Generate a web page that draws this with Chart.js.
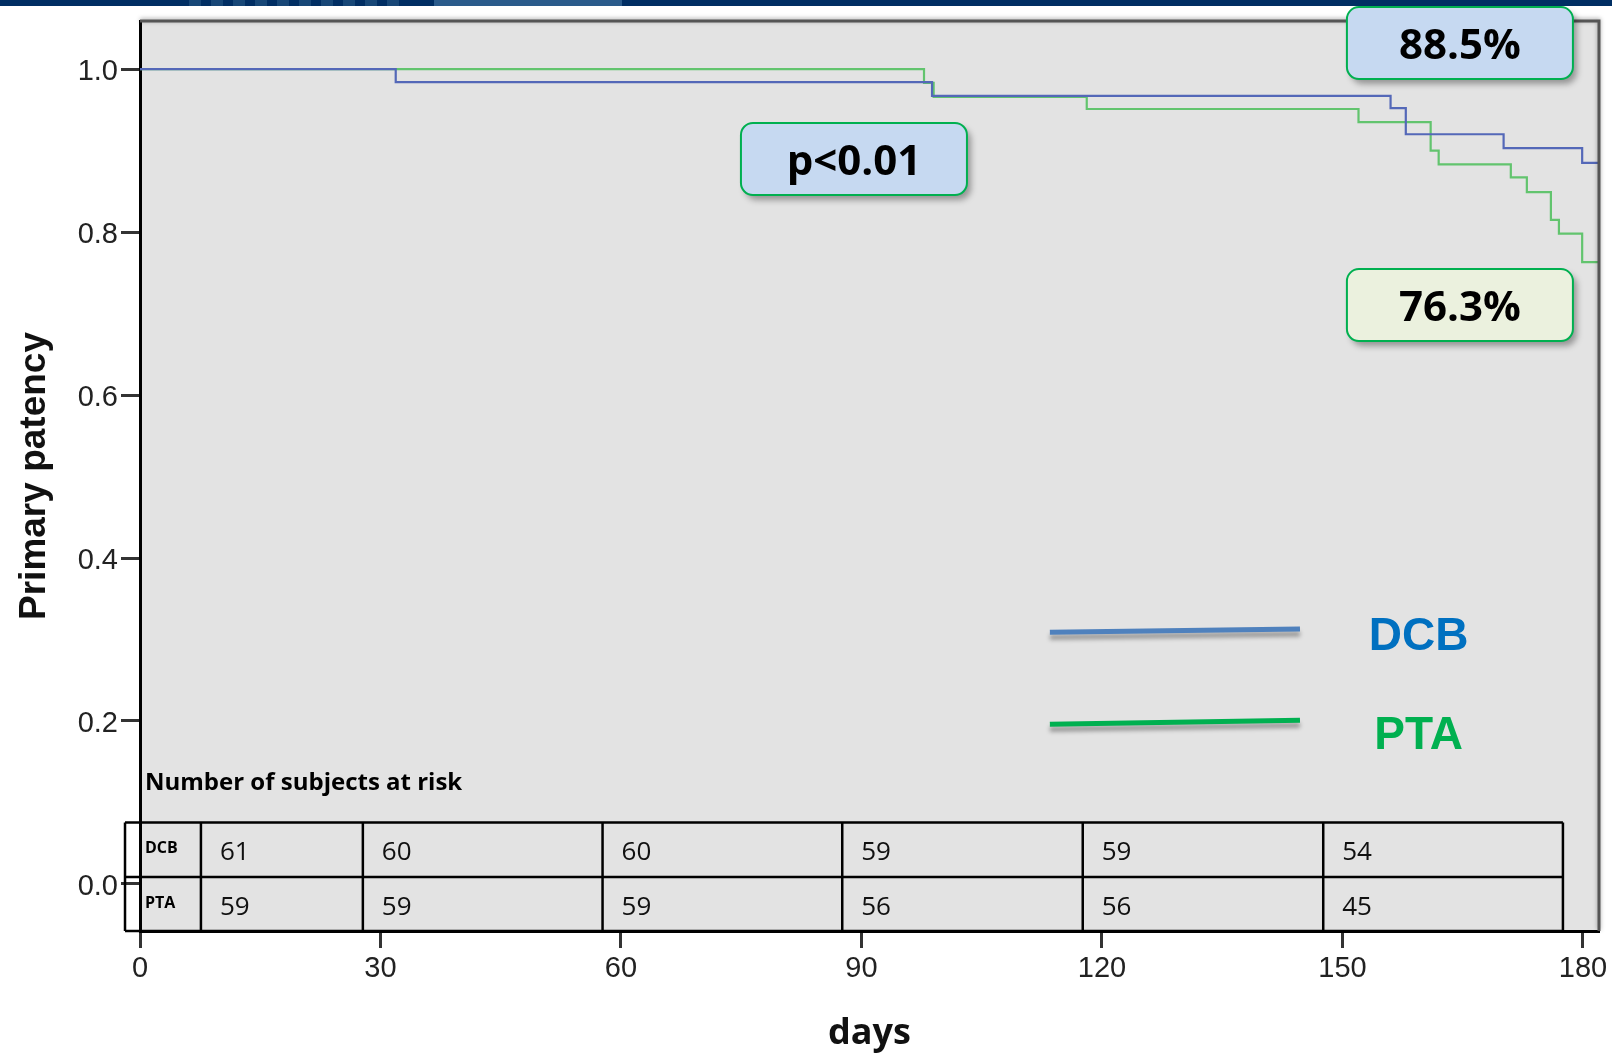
<!DOCTYPE html>
<html lang="en">
<head>
    <meta charset="UTF-8">
    <title>Primary patency</title>
    <script src="https://cdn.jsdelivr.net/npm/chart.js"></script>
    <style>
        html, body { margin: 0; padding: 0; background: #fff; }
        canvas { display: block; }
    </style>
</head>
<body>
    <canvas id="kmChart" width="1612" height="1055"></canvas>

    <script>
        // ticks
        const xTickValues = [0, 30, 60, 90, 120, 150, 180]
        const yTickValues = [0, 0.2, 0.4, 0.6, 0.8, 1.0]

        // Kaplan-Meier steps (day, patency)
        const dcbDays = [0, 31.9, 98.8, 156.0, 157.9, 170.1, 179.9, 182]
        const dcbPatency = [1.0, 0.984, 0.967, 0.952, 0.920, 0.903, 0.885, 0.885]
        const ptaDays = [0, 97.8, 99.0, 118.1, 152.0, 161.0, 162.0, 171.0, 173.0, 176.0, 177.0, 179.9, 182]
        const ptaPatency = [1.0, 0.983, 0.966, 0.951, 0.935, 0.900, 0.883, 0.867, 0.849, 0.815, 0.798, 0.763, 0.763]

        // number at risk table
        const riskGroups = ['DCB', 'PTA']
        const riskDCB = [61, 60, 60, 59, 59, 54]
        const riskPTA = [59, 59, 59, 56, 56, 45]

        // annotation texts
        const pValueText = 'p<0.01'
        const dcbFinalText = '88.5%'
        const ptaFinalText = '76.3%'

        // layout (in axis units)
        const tableEdges = [-1.87, 7.6, 27.8, 57.7, 87.6, 117.6, 147.6, 177.5]
        const tableRowTop = 0.0755
        const tableRowMid = 0.0086

        const toPoints = (xs, ys) => xs.map((x, i) => ({ x: x, y: ys[i] }))

        const decor = {
            id: 'decor',
            beforeDraw(chart) {
                const { ctx, chartArea: a } = chart
                ctx.save()
                ctx.fillStyle = '#fff'
                ctx.fillRect(0, 0, chart.width, chart.height)
                // header strip
                ctx.fillStyle = '#002e63'
                ctx.fillRect(0, 0, chart.width, 6)
                ctx.fillStyle = '#174777'
                for (let x = 189; x < 390; x += 22) {
                    ctx.fillRect(x, 0, 12, 6)
                }
                ctx.fillStyle = '#2a5b8b'
                ctx.fillRect(434, 0, 188, 6)
                // plot background
                ctx.fillStyle = '#e3e3e3'
                ctx.fillRect(a.left, a.top, a.right - a.left, a.bottom - a.top)
                ctx.restore()
            },
            afterDatasetsDraw(chart) {
                const { ctx, chartArea: a } = chart
                const X = v => chart.scales.x.getPixelForValue(v)
                const Y = v => chart.scales.y.getPixelForValue(v)
                ctx.save()

                // frame top / right
                ctx.shadowColor = 'rgba(0,0,0,0.35)'
                ctx.shadowBlur = 4
                ctx.shadowOffsetY = -1
                ctx.strokeStyle = '#555'
                ctx.lineWidth = 3
                ctx.beginPath()
                ctx.moveTo(a.left, a.top)
                ctx.lineTo(a.right, a.top)
                ctx.lineTo(a.right, a.bottom)
                ctx.stroke()
                ctx.shadowColor = 'transparent'

                // risk table
                const top = Y(tableRowTop), mid = Y(tableRowMid), bot = a.bottom
                ctx.strokeStyle = '#000'
                ctx.lineWidth = 2.5
                ctx.beginPath()
                ctx.moveTo(X(tableEdges[0]), top); ctx.lineTo(X(tableEdges[tableEdges.length - 1]), top)
                ctx.moveTo(X(tableEdges[0]), mid); ctx.lineTo(X(tableEdges[tableEdges.length - 1]), mid)
                ctx.moveTo(X(tableEdges[0]), bot); ctx.lineTo(X(tableEdges[tableEdges.length - 1]), bot)
                tableEdges.forEach(e => { ctx.moveTo(X(e), top); ctx.lineTo(X(e), bot) })
                ctx.stroke()

                ctx.fillStyle = '#000'
                ctx.textAlign = 'left'
                ctx.textBaseline = 'alphabetic'
                ctx.font = 'bold 24px "Open Sans"'
                ctx.fillText('Number of subjects at risk', X(0) + 5, Y(0.1153))

                ctx.font = 'bold 16px "Open Sans"'
                ctx.fillText(riskGroups[0], X(0) + 5, mid - 24)
                ctx.fillText(riskGroups[1], X(0) + 5, bot - 23)

                ctx.font = '26px "Open Sans"'
                ctx.fillStyle = '#111'
                riskDCB.forEach((n, i) => ctx.fillText(String(n), X(tableEdges[i + 1]) + 19, mid - 17))
                riskPTA.forEach((n, i) => ctx.fillText(String(n), X(tableEdges[i + 1]) + 19, bot - 16))

                // legend lines
                const legendLine = (x0, y0, x1, y1, color) => {
                    ctx.save()
                    ctx.shadowColor = 'rgba(0,0,0,0.35)'
                    ctx.shadowBlur = 4
                    ctx.shadowOffsetY = 5
                    ctx.strokeStyle = color
                    ctx.lineWidth = 5
                    ctx.beginPath()
                    ctx.moveTo(X(x0), Y(y0))
                    ctx.lineTo(X(x1), Y(y1))
                    ctx.stroke()
                    ctx.restore()
                }
                legendLine(113.5, 0.309, 144.7, 0.313, '#4f81bd')
                legendLine(113.5, 0.196, 144.7, 0.201, '#00b050')

                ctx.textAlign = 'center'
                ctx.font = 'bold 46px "Liberation Sans", Arial, sans-serif'
                ctx.fillStyle = '#0070c0'
                ctx.fillText('DCB', X(159.5), Y(0.3086) + 17)
                ctx.fillStyle = '#00b050'
                ctx.fillText('PTA', X(159.5), Y(0.1871) + 17)

                // boxed labels
                const box = (cx, cy, fill, text) => {
                    const w = 226, h = 72, r = 12
                    const x = X(cx) - w / 2, y = Y(cy) - h / 2
                    ctx.save()
                    ctx.beginPath()
                    ctx.roundRect(x, y, w, h, r)
                    ctx.shadowColor = 'rgba(0,0,0,0.35)'
                    ctx.shadowBlur = 6
                    ctx.shadowOffsetX = 4
                    ctx.shadowOffsetY = 5
                    ctx.fillStyle = fill
                    ctx.fill()
                    ctx.shadowColor = 'transparent'
                    ctx.strokeStyle = '#00b050'
                    ctx.lineWidth = 2
                    ctx.stroke()
                    ctx.fillStyle = '#000'
                    ctx.textAlign = 'center'
                    ctx.textBaseline = 'alphabetic'
                    ctx.font = 'bold 42px "Open Sans"'
                    ctx.fillText(text, X(cx), Y(cy) + 16)
                    ctx.restore()
                }
                box(89.06, 0.8896, '#c6d9f1', pValueText)
                box(164.65, 1.0319, '#c6d9f1', dcbFinalText)
                box(164.65, 0.7104, '#ebf1de', ptaFinalText)

                ctx.restore()
            }
        }

        const ctx = document.getElementById('kmChart').getContext('2d')
        const chart = new Chart(ctx, {
            type: 'line',
            data: {
                datasets: [{
                    label: 'DCB',
                    data: toPoints(dcbDays, dcbPatency),
                    borderColor: '#5468b8',
                    borderWidth: 2.2,
                    stepped: 'before',
                    pointRadius: 0,
                    fill: false
                }, {
                    label: 'PTA',
                    data: toPoints(ptaDays, ptaPatency),
                    borderColor: '#62c46e',
                    borderWidth: 2.2,
                    stepped: 'before',
                    pointRadius: 0,
                    fill: false
                }]
            },
            options: {
                responsive: false,
                animation: false,
                devicePixelRatio: 1,
                layout: { padding: { top: 21, right: 13, left: 0, bottom: 0 } },
                plugins: {
                    legend: { display: false },
                    tooltip: { enabled: false }
                },
                scales: {
                    x: {
                        type: 'linear',
                        min: 0,
                        max: 182,
                        afterBuildTicks: s => { s.ticks = xTickValues.map(v => ({ value: v })) },
                        afterFit: s => { s.height = 124 },
                        grid: { drawOnChartArea: false, drawTicks: true, tickLength: 17, tickWidth: 3, tickColor: '#333' },
                        border: { display: true, color: '#000', width: 3 },
                        ticks: {
                            padding: 4,
                            maxRotation: 0,
                            color: '#222',
                            font: { family: '"Liberation Sans", Arial, sans-serif', size: 29 },
                            callback: v => String(v)
                        },
                        title: {
                            display: true,
                            text: 'days',
                            color: '#111',
                            padding: { top: 0, bottom: 0 },
                            font: { family: '"Open Sans"', size: 36, weight: 'bold' }
                        }
                    },
                    y: {
                        min: -0.0577,
                        max: 1.059,
                        afterBuildTicks: s => { s.ticks = yTickValues.map(v => ({ value: v })) },
                        afterFit: s => { s.width = 140 },
                        grid: { drawOnChartArea: false, drawTicks: true, tickLength: 19, tickWidth: 3, tickColor: '#333' },
                        border: { display: true, color: '#000', width: 3 },
                        ticks: {
                            padding: 3,
                            labelOffset: 3,
                            color: '#222',
                            font: { family: '"Liberation Sans", Arial, sans-serif', size: 29 },
                            callback: v => v.toFixed(1)
                        },
                        title: {
                            display: true,
                            text: 'Primary patency',
                            color: '#111',
                            padding: { top: 13, bottom: 0 },
                            font: { family: '"Liberation Sans", Arial, sans-serif', size: 37, weight: 'bold' }
                        }
                    }
                }
            },
            plugins: [decor]
        })
    </script>
</body>
</html>
